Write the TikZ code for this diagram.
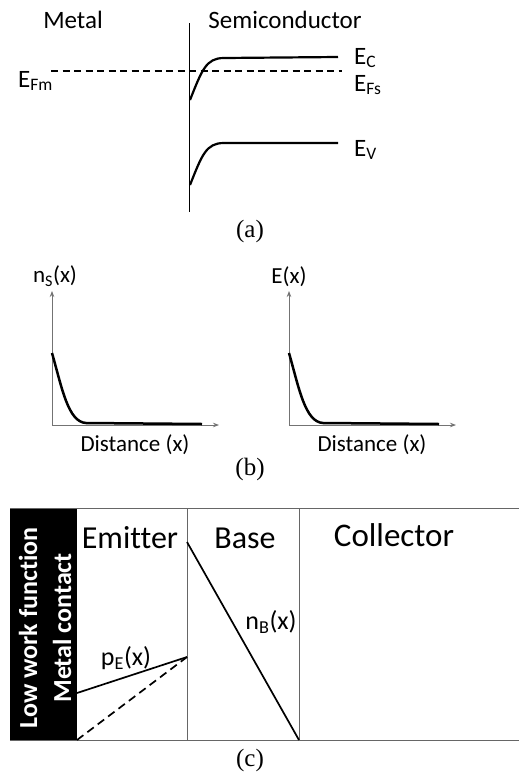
\documentclass[tikz,border=0pt]{standalone}
\usepackage{fontspec}
\setmainfont{Carlito}[Ligatures=NoCommon]
\newfontfamily\capfont{Liberation Serif}
\usetikzlibrary{arrows.meta,positioning,calc}
\tikzset{
  band/.style={line width=2.2pt},
  fermi/.style={line width=1.1pt,dash pattern=on 7pt off 4.5pt},
  axis/.style={-{Stealth[length=6pt,width=4.5pt]},draw=black!55,line width=0.8pt},
  profile/.style={line width=2.5pt},
  frame/.style={draw=black!60,line width=0.8pt},
  lbl/.style={inner sep=0pt,font=\fontsize{25}{27}\selectfont},
  plotlbl/.style={inner sep=0pt,font=\fontsize{23}{25}\selectfont},
  reglbl/.style={inner sep=0pt,font=\fontsize{32}{34}\selectfont},
  caption/.style={inner sep=0pt,font=\capfont\fontsize{25}{27}\selectfont}
}
\begin{document}
\begin{tikzpicture}[x=1pt,y=-1pt]
  \useasboundingbox (0,0) rectangle (519,774);
  % (a) band diagram
  \node[lbl] (metal) at (73,20) {Metal};
  \node[lbl] (semi) at (285,20) {Semiconductor};
  \coordinate (ifTop) at (189,23);
  \coordinate (ifBot) at (189,212);
  \draw[line width=0.9pt] (ifTop) -- (ifBot);
  \coordinate (fmL) at (51,71);
  \coordinate (fsR) at (342,71);
  \draw[fermi] (fmL) -- (fsR);
  \draw[band] (190,100) .. controls (202,70) and (206,58) .. (224,58) -- (338,57);
  \draw[band] (190,185) .. controls (202,155) and (206,143) .. (224,143) -- (338,143);
  \node[lbl,anchor=west] (ec) at (354,58) {E\textsubscript{C}};
  \node[lbl,anchor=west] (efs) at (354,85) {E\textsubscript{Fs}};
  \node[lbl,anchor=east] (efm) at (53,81) {E\textsubscript{Fm}};
  \node[lbl,anchor=west] (ev) at (354,150) {E\textsubscript{V}};
  \node[caption] (capa) at (250,231) {(a)};
  % (b) profiles
  \foreach \ox/\name in {0/ns,237/ef}{
    \draw[axis] (52+\ox,425) -- (52+\ox,291);
    \draw[axis] (52+\ox,425) -- (219+\ox,425);
    \draw[profile] (52+\ox,353) .. controls (62+\ox,388) and (68+\ox,422) .. (86+\ox,423) -- (202+\ox,424);
    \node[plotlbl] (\name dist) at (135+\ox,445) {Distance (x)};
  }
  \node[plotlbl] (nslbl) at (55,276) {n\textsubscript{S}(x)};
  \node[plotlbl] (eflbl) at (289,277) {E(x)};
  \node[caption] (capb) at (250,469) {(b)};
  % (c) transistor regions
  \fill (10,508) rectangle (77,740);
  \draw[frame] (10,508) -- (519,508);
  \draw[frame] (10,740) -- (519,740);
  \draw[frame] (187,508) -- (187,740);
  \draw[frame] (299,508) -- (299,740);
  \node[rotate=90,text=white,align=center,inner sep=0pt,font=\bfseries\fontsize{26}{34}\selectfont] (contact) at (45,628) {Low work function\\Metal contact};
  \node[reglbl] (emit) at (130,538) {Emitter};
  \node[reglbl] (base) at (245,538) {Base};
  \node[reglbl,font=\fontsize{33}{35}\selectfont] (coll) at (394,535) {Collector};
  \coordinate (nbTop) at (187,542);
  \coordinate (nbBot) at (299,740);
  \draw[line width=1.7pt] (nbTop) -- (nbBot);
  \coordinate (peL) at (77,693);
  \coordinate (peR) at (187,657);
  \coordinate (peD) at (77,740);
  \draw[line width=1.7pt] (peL) -- (peR);
  \draw[line width=1.7pt,dash pattern=on 8pt off 5pt] (peD) -- (peR);
  \node[plotlbl,font=\fontsize{26}{28}\selectfont] (nblbl) at (271,622) {n\textsubscript{B}(x)};
  \node[plotlbl,font=\fontsize{26}{28}\selectfont] (pelbl) at (126,658) {p\textsubscript{E}(x)};
  \node[caption] (capc) at (250,760) {(c)};
\end{tikzpicture}
\end{document}
